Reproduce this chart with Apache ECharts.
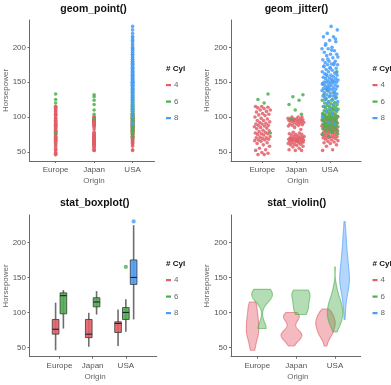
<!DOCTYPE html>
<html><head><meta charset="utf-8">
<script src="https://cdn.jsdelivr.net/npm/echarts@6/dist/echarts.min.js"></script>
<style>html,body{margin:0;padding:0;background:#fff}#c{width:391px;height:385px}</style>
</head><body><div id="c"></div><script>
// ---------- data ----------
const origins = ['Europe', 'Japan', 'USA'];
const cylinders = ['4', '6', '8'];
const yTicks = [50, 100, 150, 200];
const panelTitles = ['geom_point()', 'geom_jitter()', 'stat_boxplot()', 'stat_violin()'];

const hpEurope4 = [46,46,48,49,52,53,55,58,60,62,63,65,66,67,67,68,69,70,70,71,72,74,75,76,76,77,78,79,80,81,83,84,85,86,87,88,88,90,90,91,92,93,95,95,97,98,100,102,103,104,105,107,108,110,110,112,113,114,115,115];
const hpEurope6 = [77,120,125,133];
const hpJapan4 = [52,52,53,55,57,58,59,60,61,61,62,63,63,64,65,65,65,66,67,67,67,68,68,68,69,69,70,70,70,71,72,72,73,74,75,75,76,77,78,64,66,69,82,85,87,88,88,89,90,90,91,92,92,93,94,94,95,95,95,96,96,97,97,97,97,98,100,100,100];
const hpJapan6 = [97,104,110,118,124,129,132];
const hpUSA4 = [52,53,58,60,62,63,64,65,66,67,68,69,70,70,71,71,72,72,73,74,75,75,76,76,77,78,78,79,80,80,81,81,82,82,83,83,84,84,85,85,86,86,87,87,88,88,89,89,90,90,91,92,92,93,94,95,95,96,96,97,97,98,99,100,100,101,102,103,104,105];
const hpUSA6 = [72,75,78,80,81,82,83,84,85,86,87,88,88,89,90,90,91,92,93,94,95,95,96,97,98,98,99,100,100,100,101,102,103,104,105,105,106,107,108,108,109,110,110,111,112,113,114,115,115,116,117,118,119,120,121,122,124,125,126,128,130,132,135,138,76,79,86,93,97,103,111,140,165];
const hpUSA8 = [90,92,100,105,108,110,112,115,118,120,122,124,125,127,129,130,130,132,133,134,135,136,137,138,139,140,140,140,141,142,143,144,145,145,146,147,148,149,150,150,150,150,151,152,153,154,155,155,156,157,158,159,160,160,162,163,165,165,167,168,170,170,172,175,175,175,176,178,180,180,182,185,188,190,190,193,195,198,198,200,205,208,210,215,215,220,225,230,128,131,143,147,152,161,164,171,173,177,183,186,196,203,212];

// box statistics: [lower whisker, Q1, median, Q3, upper whisker]
const boxEurope4 = [46, 69, 76, 90, 114];
const boxEurope6 = [77, 98, 124, 128, 132];
const boxJapan4 = [51, 64, 69, 90, 99.5];
const boxJapan6 = [97, 108, 115, 121, 130.5];
const boxUSA4 = [52, 71.4, 84.3, 86.6, 104.3];
const boxUSA6 = [72.3, 90, 100, 107, 119];
const boxUSA8 = [90, 140, 150, 175, 224.7];
const outUSA6 = [165];
const outUSA8 = [230];

// ---------- building ----------
const COLORS = ['#E25E68', '#4CAF4F', '#4A9DF8'];
function rgba(hex, a){const n=parseInt(hex.slice(1),16);return 'rgba('+(n>>16)+','+((n>>8)&255)+','+(n&255)+','+a+')';}
const groups = [
  {o:0,c:0,hp:hpEurope4,box:boxEurope4,out:[]},
  {o:0,c:1,hp:hpEurope6,box:boxEurope6,out:[]},
  {o:1,c:0,hp:hpJapan4,box:boxJapan4,out:[]},
  {o:1,c:1,hp:hpJapan6,box:boxJapan6,out:[]},
  {o:2,c:0,hp:hpUSA4,box:boxUSA4,out:[]},
  {o:2,c:1,hp:hpUSA6,box:boxUSA6,out:outUSA6},
  {o:2,c:2,hp:hpUSA8,box:boxUSA8,out:outUSA8}
];
groups.forEach(g=>{const same=groups.filter(h=>h.o===g.o);g.n=same.length;g.k=same.indexOf(g);});
const BOX_DODGE = 0.235, VIO_DODGE = 0.245, BOX_W = 0.2, VIO_HALF = 0.267, JIT = 0.24;

// kernel density (gaussian, bw.nrd0, trimmed to the data range), violins scaled by area
function quantile(s,p){const h=(s.length-1)*p,l=Math.floor(h);return s[l]+(h-l)*((s[Math.min(l+1,s.length-1)])-s[l]);}
function bwNrd0(x){const s=x.slice().sort((a,b)=>a-b),n=s.length;const m=s.reduce((a,b)=>a+b,0)/n;
  const sd=Math.sqrt(s.reduce((a,b)=>a+(b-m)*(b-m),0)/(n-1));const iqr=quantile(s,0.75)-quantile(s,0.25);
  let lo=Math.min(sd,iqr/1.34);if(!(lo>0))lo=sd||1;return 0.9*lo*Math.pow(n,-0.2);}
groups.forEach(g=>{const bw=bwNrd0(g.hp);const mn=Math.min(...g.hp),mx=Math.max(...g.hp);const prof=[];
  const N=140;for(let i=0;i<=N;i++){const y=mn+(mx-mn)*i/N;let d=0;g.hp.forEach(v=>{const z=(y-v)/bw;d+=Math.exp(-0.5*z*z);});
  prof.push([y,d/(g.hp.length*bw*Math.sqrt(2*Math.PI))]);}g.profile=prof;});
const densMax=Math.max(...groups.map(g=>Math.max(...g.profile.map(p=>p[1]))));

const FONT='Liberation Sans, Arial, sans-serif';
const panels=[
  {left:29.5,top:20,width:125,height:141,xmin:0.32,xmax:3.57},
  {left:231,top:20,width:130,height:141,xmin:0.075,xmax:3.916},
  {left:29.5,top:215,width:127.2,height:141.7,xmin:0.096,xmax:3.93},
  {left:231,top:215,width:129.7,height:141.7,xmin:0.323,xmax:3.66}
];
const AX='#6a6a6a';
const grid=panels.map(p=>({left:p.left,top:p.top,width:p.width,height:p.height,containLabel:false,outerBoundsMode:'none'}));
const xAxis=panels.map((p,i)=>({type:'value',gridIndex:i,min:p.xmin,max:p.xmax,
  axisLine:{show:true,onZero:false,lineStyle:{color:AX,width:1}},
  axisTick:{show:true,length:2,customValues:[1,2,3],lineStyle:{color:AX}},
  axisLabel:{customValues:[1,2,3],formatter:v=>origins[Math.round(v)-1]||'',color:'#555',fontSize:8,margin:5,fontFamily:FONT},
  splitLine:{show:false}}));
const yAxis=panels.map((p,i)=>({type:'value',gridIndex:i,min:36.8,max:239.2,
  axisLine:{show:true,onZero:false,lineStyle:{color:AX,width:1}},
  axisTick:{show:true,length:2,customValues:yTicks,lineStyle:{color:AX}},
  axisLabel:{customValues:yTicks,color:'#555',fontSize:8,margin:3.5,fontFamily:FONT},
  splitLine:{show:false}}));

const series=[];
// panel 1: geom_point, panel 2: geom_jitter
cylinders.forEach((cyl,c)=>{
  const pts=[],jit=[];
  groups.filter(g=>g.c===c).forEach(g=>{g.hp.forEach((v,i)=>{pts.push([g.o+1,v]);
    const u=(((i+1)*0.6180339887+g.o*0.213+c*0.377)%1)-0.5;jit.push([g.o+1+u*2*JIT,v]);});});
  series.push({type:'scatter',xAxisIndex:0,yAxisIndex:0,data:pts,symbolSize:3.6,itemStyle:{color:COLORS[c],opacity:0.85},silent:true});
  series.push({type:'scatter',xAxisIndex:1,yAxisIndex:1,data:jit,symbolSize:3.6,itemStyle:{color:COLORS[c],opacity:0.85},silent:true});
});
// panel 3: boxplot
series.push({type:'custom',xAxisIndex:2,yAxisIndex:2,silent:true,
  data:groups.map(g=>[g.o+1+(g.k-(g.n-1)/2)*BOX_DODGE].concat(g.box)),
  encode:{x:0,y:[1,5]},
  renderItem:(params,api)=>{const g=groups[params.dataIndex];const x=api.value(0);
    const lo=api.coord([x,api.value(1)]),q1=api.coord([x,api.value(2)]),md=api.coord([x,api.value(3)]),q3=api.coord([x,api.value(4)]),hi=api.coord([x,api.value(5)]);
    const hw=api.size([BOX_W,0])[0]/2;
    return {type:'group',children:[
      {type:'line',shape:{x1:lo[0],y1:lo[1],x2:hi[0],y2:hi[1]},style:{stroke:'#6e6e6e',lineWidth:1.6}},
      {type:'rect',shape:{x:q3[0]-hw,y:q3[1],width:2*hw,height:q1[1]-q3[1]},style:{fill:rgba(COLORS[g.c],0.9),stroke:'#3a3a3a',lineWidth:0.8}},
      {type:'line',shape:{x1:md[0]-hw,y1:md[1],x2:md[0]+hw,y2:md[1]},style:{stroke:'#222',lineWidth:1.1}}]};}});
cylinders.forEach((cyl,c)=>{const d=[];groups.filter(g=>g.c===c).forEach(g=>g.out.forEach(v=>d.push([g.o+1+(g.k-(g.n-1)/2)*BOX_DODGE,v])));
  if(d.length)series.push({type:'scatter',xAxisIndex:2,yAxisIndex:2,data:d,symbolSize:4.2,itemStyle:{color:COLORS[c]},silent:true});});
// panel 4: violins
series.push({type:'custom',xAxisIndex:3,yAxisIndex:3,silent:true,
  data:groups.map(g=>[g.o+1+(g.k-(g.n-1)/2)*VIO_DODGE,Math.min(...g.hp),Math.max(...g.hp)]),
  encode:{x:0,y:[1,2]},
  renderItem:(params,api)=>{const g=groups[params.dataIndex];const x=api.value(0);const L=[],R=[];
    g.profile.forEach(([h,d])=>{const w=d/densMax*VIO_HALF;L.push(api.coord([x-w,h]));R.push(api.coord([x+w,h]));});
    return {type:'polygon',shape:{points:L.concat(R.reverse())},style:{fill:rgba(COLORS[g.c],0.42),stroke:rgba(COLORS[g.c],0.6),lineWidth:1.1}};}});

// texts: titles, axis names, legends
const graphic=[];
const titlePos=[[93.5,9],[296.5,9],[94.7,203],[296.7,203]];
panelTitles.forEach((t,i)=>graphic.push({type:'text',x:titlePos[i][0],y:titlePos[i][1],style:{text:t,fontSize:10.5,fontWeight:'bold',fontFamily:FONT,fill:'#111',align:'center',verticalAlign:'middle'}}));
panels.forEach((p,i)=>{
  const yx=i%2===0?6:207;
  graphic.push({type:'text',x:yx,y:p.top+p.height/2,rotation:Math.PI/2,style:{text:'Horsepower',fontSize:8,fontFamily:FONT,fill:'#666',align:'center',verticalAlign:'middle'}});
  graphic.push({type:'text',x:p.left+p.width/2+2,y:p.top+p.height+20,style:{text:'Origin',fontSize:8,fontFamily:FONT,fill:'#666',align:'center',verticalAlign:'middle'}});
  const lx=i%2===0?166:372.5, ly=i<2?69:264;
  graphic.push({type:'text',x:lx,y:ly,style:{text:'# Cyl',fontSize:8,fontWeight:'bold',fontFamily:FONT,fill:'#111',align:'left',verticalAlign:'middle'}});
  cylinders.forEach((c,k)=>{const yy=ly+16+k*16.5;
    graphic.push({type:'rect',shape:{x:lx,y:yy-1,width:5,height:2.2},style:{fill:COLORS[k]}});
    graphic.push({type:'text',x:lx+8,y:yy,style:{text:c,fontSize:8,fontFamily:FONT,fill:'#666',align:'left',verticalAlign:'middle'}});});
});

const chart=echarts.init(document.getElementById('c'),null,{renderer:'canvas'});
chart.setOption({animation:false,backgroundColor:'#fff',grid,xAxis,yAxis,series,graphic});
</script></body></html>
